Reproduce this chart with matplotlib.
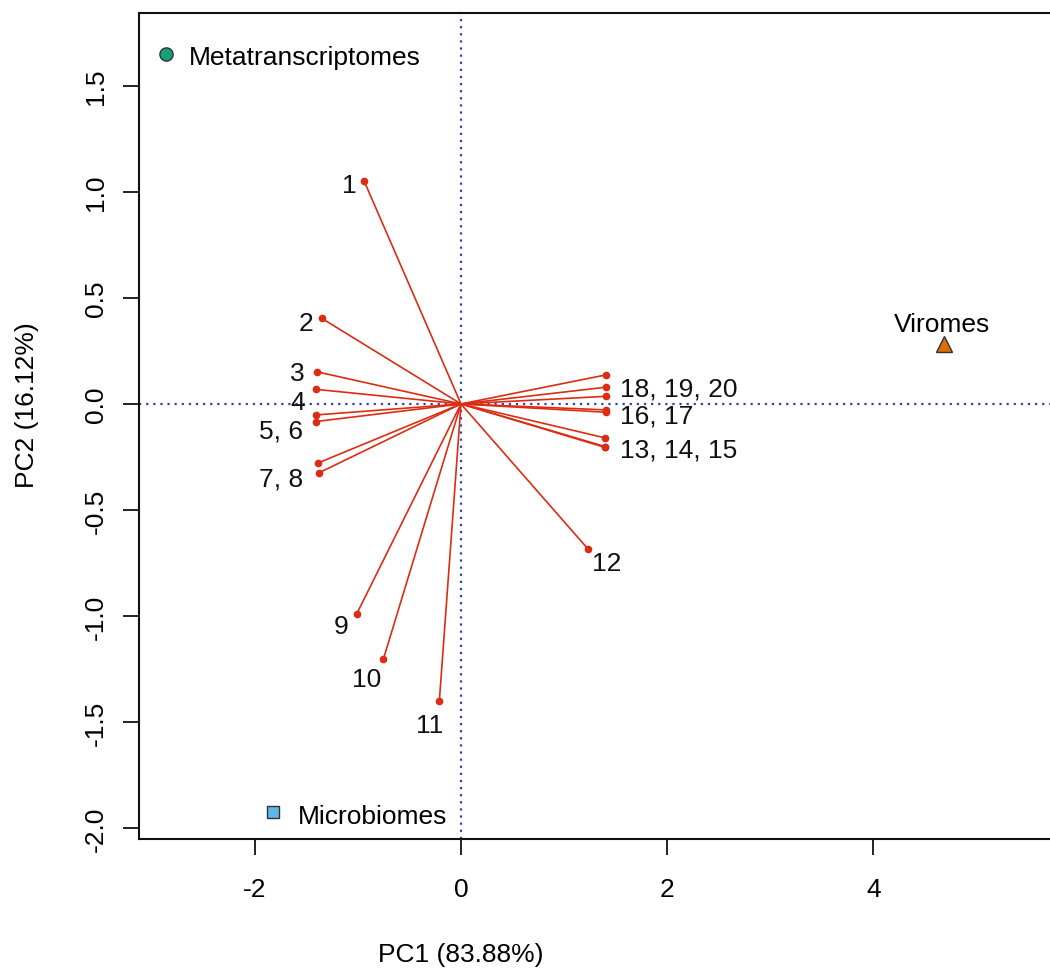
import matplotlib
matplotlib.use("Agg")
import matplotlib.pyplot as plt

# Variable loadings (arrow tips) on PC1 / PC2
var_pc1 = [-0.94, -1.351, -1.40, -1.409, -1.409, -1.409, -1.384, -1.374,
           -1.012, -0.753, -0.210, 1.232, 1.397, 1.397, 1.397,
           1.406, 1.406, 1.406, 1.406, 1.406]
var_pc2 = [1.052, 0.404, 0.152, 0.069, -0.052, -0.083, -0.278, -0.324,
           -0.991, -1.204, -1.402, -0.684, -0.160, -0.201, -0.205,
           -0.028, -0.039, 0.137, 0.079, 0.036]

# Labels for the arrow tips (several arrows share one label)
label_text = ["1", "2", "3", "4", "5, 6", "7, 8", "9", "10", "11", "12",
              "13, 14, 15", "16, 17", "18, 19, 20"]
label_anchor = [0, 1, 2, 3, 5, 7, 8, 9, 10, 11, 13, 16, 18]

# Sample group scores
group_names = ["Metatranscriptomes", "Microbiomes", "Viromes"]
group_pc1 = [-2.861, -1.823, 4.685]
group_pc2 = [1.651, -1.925, 0.283]

x_label = "PC1 (83.88%)"
y_label = "PC2 (16.12%)"
x_ticks = [-2, 0, 2, 4]
y_ticks = [-2.0, -1.5, -1.0, -0.5, 0.0, 0.5, 1.0, 1.5]

plt.rcParams["font.family"] = ["Liberation Sans", "DejaVu Sans"]
FS = 19

W, H = 1050, 970
fig = plt.figure(figsize=(W / 100, H / 100), dpi=100)
left, right, top, bottom = 139, 1050, 14, 840
ax = fig.add_axes([left / W, (H - bottom) / H, (right - left) / W, (bottom - top) / H])
ax.set_xlim(-3.123, 5.713)
ax.set_ylim(-2.052, 1.844)

for s in ["left", "bottom", "top"]:
    ax.spines[s].set_linewidth(1.5)
    ax.spines[s].set_color("#111111")
ax.spines["right"].set_visible(False)

# reference lines through the origin
dot_blue = "#3040B0"
ax.axhline(0, color=dot_blue, lw=1.6, ls=(0, (1, 2.2)), zorder=1)
ax.axvline(0, color=dot_blue, lw=1.6, ls=(0, (1, 2.2)), zorder=1)

# arrows from origin to each loading
red = "#DC2C12"
for x, y in zip(var_pc1, var_pc2):
    ax.plot([0, x], [0, y], color=red, lw=1.2, zorder=2, solid_capstyle="butt")
ax.plot(var_pc1, var_pc2, "o", color=red, ms=4.5, mec=red, zorder=3)

# label offsets in pixels (dx, dy, ha)
offsets = [(-15, -2, "center"), (-16, -2, "center"), (-19, 1, "center"),
           (-18, -10, "center"), (-13, -6, "right"), (-16, -3, "right"),
           (-16, -9, "center"), (-17, -17, "center"), (-10, -21, "center"),
           (19, -12, "center"), (15, 0, "left"), (14, -1, "left"),
           (14, 1, "left")]
for txt, idx, (dx, dy, ha) in zip(label_text, label_anchor, offsets):
    ax.annotate(txt, (var_pc1[idx], var_pc2[idx]), xytext=(dx, dy),
                textcoords="offset pixels", ha=ha, va="center_baseline",
                fontsize=FS, color="#111111", zorder=4)

# group scores
edge = "#333333"
ax.plot(group_pc1[0], group_pc2[0], "o", ms=9.5, mfc="#13A07A", mec=edge, mew=1.0, zorder=5)
ax.plot(group_pc1[1], group_pc2[1], "s", ms=8.5, mfc="#5BB8EA", mec=edge, mew=1.0, zorder=5)
ax.plot(group_pc1[2], group_pc2[2], "^", ms=11, mfc="#DB6E00", mec=edge, mew=1.0, zorder=5)

ax.annotate(group_names[0], (group_pc1[0], group_pc2[0]), xytext=(23, -1),
            textcoords="offset pixels", ha="left", va="center_baseline", fontsize=FS)
ax.annotate(group_names[1], (group_pc1[1], group_pc2[1]), xytext=(25, -1),
            textcoords="offset pixels", ha="left", va="center_baseline", fontsize=FS)
ax.annotate(group_names[2], (group_pc1[2], group_pc2[2]), xytext=(-2, 22),
            textcoords="offset pixels", ha="center", va="center_baseline", fontsize=FS)

ax.set_xticks(x_ticks)
ax.set_xticklabels([str(t) for t in x_ticks])
ax.set_yticks(y_ticks)
ax.set_yticklabels([f"{t:.1f}" for t in y_ticks], rotation=90, va="center")
ax.tick_params(axis="both", length=11.5, width=1.3, color="#111111",
               labelsize=FS, direction="out")
ax.tick_params(axis="x", pad=16)
ax.tick_params(axis="y", pad=11)

ax.set_xlabel(x_label, fontsize=FS)
ax.set_ylabel(y_label, fontsize=FS)
ax.xaxis.set_label_coords((461 - left) / (right - left), -(955 - bottom) / (bottom - top))
ax.yaxis.set_label_coords(-(left - 27) / (right - left), (bottom - 405) / (bottom - top))
ax.xaxis.label.set_va("center")
ax.yaxis.label.set_va("center")

fig.savefig("out.png", dpi=100)
